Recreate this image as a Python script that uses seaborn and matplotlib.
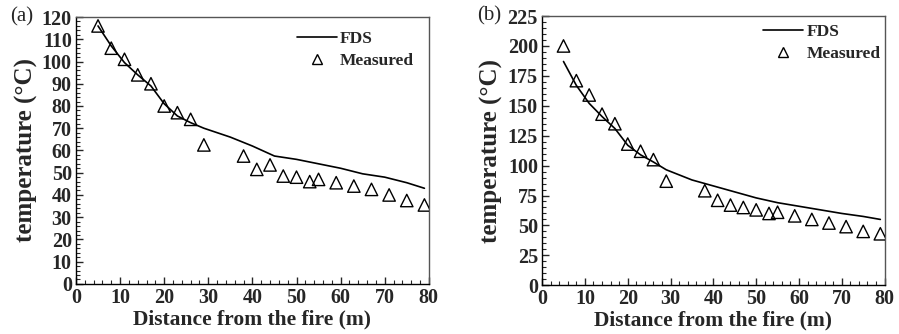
import numpy as np
import pandas as pd
import seaborn as sns
import matplotlib
matplotlib.use("Agg")
import matplotlib.pyplot as plt
from matplotlib.ticker import MultipleLocator
from matplotlib.lines import Line2D

# ---- data ----
meas_x = [5, 8, 11, 14, 17, 20, 23, 26, 29, 38, 41, 44, 47, 50, 53, 55, 59, 63, 67, 71, 75, 79]
meas_a = [116, 106, 101, 94, 90, 80, 77, 74, 62.5, 57.5, 51.5, 53.5, 48.5, 48, 46, 47, 45.5, 44, 42.5, 40, 37.5, 35.5]
meas_b = [200, 171, 159, 143, 135, 118, 112, 105, 87, 79, 71, 67, 65, 63, 60, 61, 58, 55, 52, 49, 45, 43]

fds_x = [5, 8, 11, 14, 17, 20, 23, 26, 29, 35, 40, 45, 50, 55, 60, 65, 70, 75, 79]
fds_a = [116, 107, 99.5, 94, 89, 81, 75.5, 72.5, 70, 66, 62, 57.5, 56, 54, 52, 49.5, 48, 45.5, 43]
fds_b = [187, 167, 152, 141, 131, 117, 109, 103, 96.5, 88, 83, 78, 73, 69, 66, 63, 60, 57.5, 55]

panel_labels = ["(a)", "(b)"]
xlabel = "Distance from the fire (m)"
ylabel = "temperature (\u00b0C)"

sns.set_theme(style="white")
plt.rcParams['font.family'] = ['Liberation Serif', 'DejaVu Serif']
plt.rcParams['font.weight'] = 'bold'

fig = plt.figure(figsize=(8.99, 3.34), dpi=100)
ax1 = fig.add_axes([0.0845, 0.150, 0.3925, 0.799])
ax2 = fig.add_axes([0.603, 0.146, 0.381, 0.806])

configs = [
    (ax1, fds_a, meas_a, (0, 120), 10, 2, panel_labels[0], (0.978, 0.975)),
    (ax2, fds_b, meas_b, (0, 225), 25, 5, panel_labels[1], (1.008, 0.998)),
]

for ax, fds, meas, ylim, ymaj, ymin, lab, anchor in configs:
    dfl = pd.DataFrame({"x": fds_x, "y": fds})
    dfm = pd.DataFrame({"x": meas_x, "y": meas})
    sns.lineplot(data=dfl, x="x", y="y", ax=ax, color="black", lw=1.2)
    sns.scatterplot(data=dfm, x="x", y="y", ax=ax, marker="^", s=80,
                    facecolor="none", edgecolor="black", linewidth=1.0, zorder=3)
    ax.set_xlim(0, 80)
    ax.set_ylim(*ylim)
    ax.xaxis.set_major_locator(MultipleLocator(10))
    ax.xaxis.set_minor_locator(MultipleLocator(2))
    ax.yaxis.set_major_locator(MultipleLocator(ymaj))
    ax.yaxis.set_minor_locator(MultipleLocator(ymin))
    ax.tick_params(which="both", direction="in", top=False, right=False,
                   left=True, bottom=True, labelsize=14.5, pad=3)
    ax.tick_params(which="major", length=5, width=1)
    ax.tick_params(which="minor", length=3, width=0.8)
    for sp in ax.spines.values():
        sp.set_color("#555555")
        sp.set_linewidth(1.0)
    ax.spines["left"].set_color("black")
    ax.spines["bottom"].set_color("black")
    ax.set_xlabel(xlabel, fontsize=15.5, fontweight="bold", labelpad=1)
    ax.set_ylabel(ylabel, fontsize=18, fontweight="bold", labelpad=3)
    handles = [Line2D([], [], color="black", lw=1.2),
               Line2D([], [], marker="^", ls="none", markerfacecolor="none",
                      markeredgecolor="black", markersize=7)]
    leg = ax.legend(handles, ["FDS", "Measured"], loc="upper right",
                    bbox_to_anchor=anchor,
                    frameon=False, prop={"weight": "bold", "size": 12.5},
                    handlelength=2.3, handletextpad=0.2, labelspacing=0.35,
                    borderaxespad=0.0)
    ax.text(-0.155, 1.0, lab, transform=ax.transAxes, fontsize=15,
            fontweight="normal", ha="center", va="center")

fig.savefig("out.png", dpi=100)
